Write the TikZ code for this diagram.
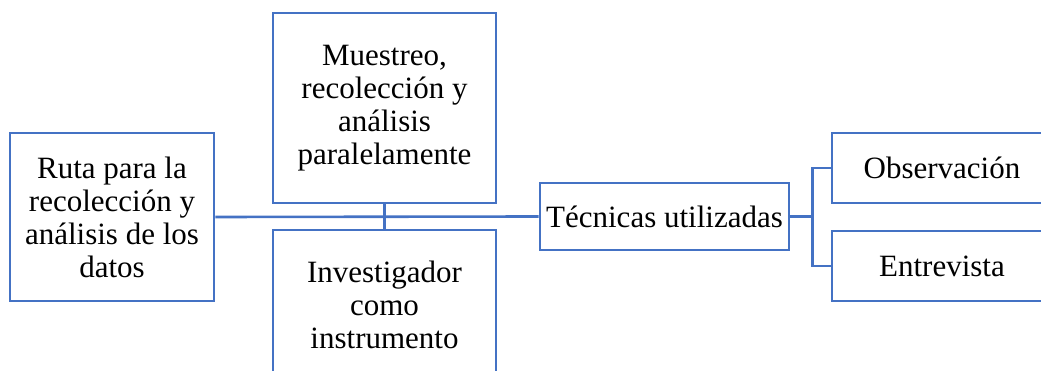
\documentclass[tikz,border=0pt]{standalone}
\usepackage{fontspec}
\setmainfont{Liberation Serif}
\definecolor{officeblue}{HTML}{4472C4}
\begin{document}
\begin{tikzpicture}[x=1pt,y=-1pt,
		box/.style={draw=officeblue, line width=2.6pt, fill=white, inner sep=0pt, align=center,
			font=\fontsize{31pt}{33pt}\selectfont},
		link/.style={draw=officeblue, line width=2.6pt}]
		\useasboundingbox (0,0) rectangle (1041,371);
		\clip (0,0) rectangle (1041,371);
		
		\node[box, minimum width=204, minimum height=168] (ruta) at (112,217) {Ruta para la\\recolección y\\análisis de los\\datos};
		\node[box, minimum width=223, minimum height=190] (muestreo) at (384.5,108) {Muestreo,\\recolección y\\análisis\\paralelamente};
		\node[box, minimum width=223, minimum height=150] (investigador) at (384.5,305) {Investigador\\como\\instrumento};
		\node[box, minimum width=249, minimum height=67] (tecnicas) at (664.5,216.5) {Técnicas utilizadas};
		\node[box, minimum width=220, minimum height=70] (observacion) at (942,168) {Observación};
		\node[box, minimum width=220, minimum height=70] (entrevista) at (942,266) {Entrevista};
		
		\draw[link] (ruta.east) -- (tecnicas.west);
		\draw[link] (muestreo.south) -- (investigador.north);
		\draw[link] (tecnicas.east) -- ++(22,0) coordinate (fork);
		\draw[link] (fork) |- (observacion.west);
		\draw[link] (fork) |- (entrevista.west);
	\end{tikzpicture}
\end{document}
